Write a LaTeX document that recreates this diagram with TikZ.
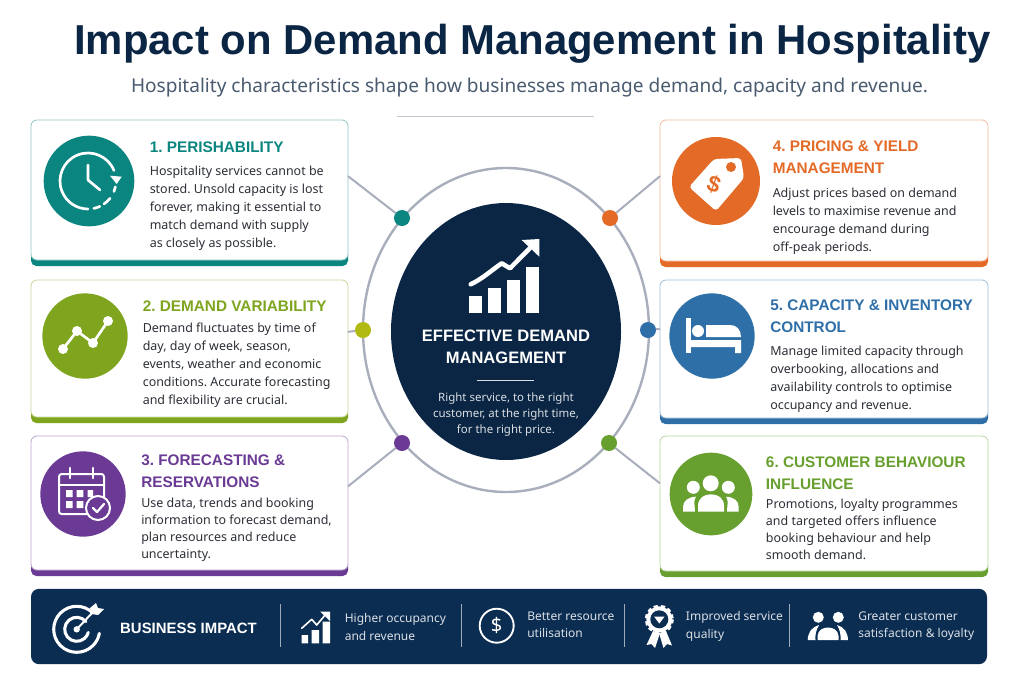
\documentclass[tikz,border=0pt]{standalone}
\usepackage{fontspec}
\setmainfont{Noto Sans}[BoldFont={Liberation Sans Bold}]
\frenchspacing
\usetikzlibrary{shapes.geometric,arrows.meta}
\definecolor{navy}{HTML}{0A2644}
\definecolor{barnavy}{HTML}{0B2D52}
\definecolor{ink}{HTML}{2B2F36}
\definecolor{slate}{HTML}{4A5B70}
\definecolor{ringgray}{HTML}{A8AEBB}
\definecolor{tealc}{HTML}{0B8580}
\definecolor{limec}{HTML}{7FA51F}
\definecolor{dotlime}{HTML}{B1BA10}
\definecolor{purplec}{HTML}{6A3A94}
\definecolor{orangec}{HTML}{E46A27}
\definecolor{bluec}{HTML}{2F6FA8}
\definecolor{greenc}{HTML}{67A02F}
\tikzset{
  card/.style={draw=#1!45,fill=white,rounded corners=4.5pt,line width=.6pt,outer sep=0pt,inner sep=0pt},
  bigicon/.style={circle,fill=#1,minimum size=64pt,inner sep=0pt,outer sep=0pt},
  linkdot/.style={circle,fill=#1,minimum size=12pt,inner sep=0pt,outer sep=0pt},
  link/.style={ringgray,line width=1.5pt},
  head/.style={font=\fontsize{11.5}{16.2}\selectfont\bfseries,text=#1,anchor=north west,align=left,inner sep=0pt,execute at begin node=\strut},
  body/.style={font=\fontsize{9.35}{13.5}\selectfont,text=ink,anchor=north west,align=left,inner sep=0pt,execute at begin node=\strut},
  bodytight/.style={body,font=\fontsize{9.35}{12.8}\selectfont},
  impact/.style={font=\fontsize{9}{13}\selectfont,text=white!85!barnavy,anchor=north west,align=left,inner sep=0pt,execute at begin node=\strut},
  icon/.style={white,line width=2pt,line cap=round,line join=round},
  divider/.style={white!60!barnavy,line width=.7pt}
}
\begin{document}
\begin{tikzpicture}[x=0.75pt,y=-0.75pt]
  \useasboundingbox (0,0) rectangle (1024,683);
  \fill[white] (0,0) rectangle (1024,683);

  % heading
  \node[at={(532.5,44)},font=\fontsize{31.4}{38}\selectfont\bfseries,text=navy,inner sep=0pt] (title) {Impact on Demand Management in Hospitality};
  \node[at={(529.5,88)},font=\fontsize{14.3}{18}\selectfont,text=slate,inner sep=0pt] (subtitle) {Hospitality characteristics shape how businesses manage demand, capacity and revenue.};
  \draw[ringgray!70,line width=.6pt] (397,116.5) -- (594,116.5);

  % cards left
  %bars
  \fill[tealc,rounded corners=4pt] (31,250) rectangle (348,266);
  \fill[limec,rounded corners=4pt] (31,407) rectangle (348,423);
  \fill[purplec,rounded corners=4pt] (31,560) rectangle (348,576);
  %boxes
  \node[card=tealc,minimum width=237.75pt,minimum height=105pt,at={(189.5,190)}] (card1) {};
  \node[card=limec,minimum width=237.75pt,minimum height=102.75pt,at={(189.5,348.5)}] (card2) {};
  \node[card=purplec,minimum width=237.75pt,minimum height=100.5pt,at={(189.5,503)}] (card3) {};

  % cards right
  %bars
  \fill[orangec,rounded corners=4pt] (660,251) rectangle (988,267);
  \fill[bluec,rounded corners=4pt] (660,408) rectangle (988,424);
  \fill[greenc,rounded corners=4pt] (660,561) rectangle (988,577);
  %boxes
  \node[card=orangec,minimum width=246pt,minimum height=105.75pt,at={(824,190.5)}] (card4) {};
  \node[card=bluec,minimum width=246pt,minimum height=103.5pt,at={(824,349)}] (card5) {};
  \node[card=greenc,minimum width=246pt,minimum height=101.25pt,at={(824,503.5)}] (card6) {};

  % hub
  %ring
  \node[ellipse,draw=ringgray,line width=1.8pt,minimum width=214.5pt,minimum height=243pt,inner sep=0pt,at={(506,330)}] (ring) {};
  \node[ellipse,fill=navy,minimum width=172.5pt,minimum height=192.75pt,inner sep=0pt,at={(506,331.5)}] (hub) {};
  %dots
  \node[linkdot=tealc,at={(402,218)}] (dot1) {};
  \node[linkdot=dotlime,at={(363,330)}] (dot2) {};
  \node[linkdot=purplec,at={(402,443)}] (dot3) {};
  \node[linkdot=orangec,at={(610,218)}] (dot4) {};
  \node[linkdot=bluec,at={(648,330)}] (dot5) {};
  \node[linkdot=greenc,at={(609,443)}] (dot6) {};
  %links
  \draw[link] (card1.5) -- (dot1);
  \draw[link] (card2.6.7) -- (dot2);
  \draw[link] (card3.6.8) -- (dot3);
  \draw[link] (card4.175.3) -- (dot4);
  \draw[link] (card5.173.4) -- (dot5);
  \draw[link] (card6.173.2) -- (dot6);
  %chart
  \fill[white] (469.3,296) rectangle (482.3,313.3);
  \fill[white] (488.3,288.3) rectangle (501.3,313.3);
  \fill[white] (507.3,280) rectangle (520.3,313.3);
  \fill[white] (526.3,266.7) rectangle (539.3,313.3);
  \draw[white,line width=3.4pt,line cap=round,line join=round] (470.7,284.3) .. controls (482,279) and (492,270) .. (501.7,263.3) -- (510,268.3) -- (531,247);
  \fill[white] (521.7,240) -- (539.3,239) -- (539.3,256.7) -- cycle;
  %labels
  \node[at={(506,347)},font=\fontsize{12.4}{16.6}\selectfont\bfseries,text=white,align=center,inner sep=0pt] (hubtitle) {EFFECTIVE DEMAND\\MANAGEMENT};
  \draw[white!85!navy,line width=.6pt] (476.7,380) -- (534.3,380);
  \node[at={(506,414.5)},font=\fontsize{8.6}{12.2}\selectfont,text=white!85!navy,align=center,inner sep=0pt] (hubtext) {Right service, to the right\\customer, at the right time,\\for the right price.};

  % card 1
  %icon
  \node[bigicon=tealc,minimum size=68pt,at={(89,181)}] (icon1) {};
  \draw[icon] (88,181) ++(-22:28) arc (-22:-270:28);
  \draw[icon] (88,181) ++(12:28) arc (12:22:28);
  \draw[icon] (88,181) ++(38:28) arc (38:55:28);
  \draw[icon] (88,181) ++(65:28) arc (65:78:28);
  \fill[white] (110,175.7) -- (121.7,176.7) -- (116.7,184) -- cycle;
  \draw[icon] (88,165) -- (88,180) -- (100,190);
  %labels
  \node[head=tealc,at={(149.5,137)}] (head1) {1. PERISHABILITY};
  \node[body,at={(149.5,165.5)}] (text1) {Hospitality services cannot be\\stored. Unsold capacity is lost\\forever, making it essential to\\match demand with supply\\as closely as possible.};

  % card 2
  %icon
  \node[bigicon=limec,at={(85,336)}] (icon2) {};
  \draw[icon] (63,349) -- (77,331) -- (93,343) -- (108,321);
  \fill[white] (63,349) circle (5) (77,331) circle (5) (93,343) circle (5) (108,321) circle (5);
  %labels
  \node[head=limec,at={(142.5,296)}] (head2) {2. DEMAND VARIABILITY};
  \node[body,at={(142.5,322.5)}] (text2) {Demand fluctuates by time of\\day, day of week, season,\\events, weather and economic\\conditions. Accurate forecasting\\and flexibility are crucial.};

  % card 3
  %icon
  \node[bigicon=purplec,at={(83,494)}] (icon3) {};
  \draw[icon,line width=1.5pt,rounded corners=2pt] (59,474) rectangle (104,514);
  \draw[icon,line width=1.5pt] (59,485) -- (104,485);
  \draw[icon] (70,468) -- (70,478) (93,468) -- (93,478);
  \fill[white] (66,490) rectangle (72.7,497) (76.7,490) rectangle (83.3,497) (87.7,490) rectangle (93,497);
  \fill[white] (66,501) rectangle (72.7,508) (76.7,501) rectangle (83.3,508);
  \draw[white,fill=purplec,line width=1.5pt] (98,508) circle (12);
  \draw[icon,line width=1.7pt] (93,508) -- (97,512) -- (104,504);
  %labels
  \node[head=purplec,at={(141,455)}] (head3) {3. FORECASTING \&\\RESERVATIONS};
  \node[bodytight,at={(141,498)}] (text3) {Use data, trends and booking\\information to forecast demand,\\plan resources and reduce\\uncertainty.};

  % card 4
  %icon
  \node[bigicon=orangec,minimum size=66pt,at={(716,181)}] (icon4) {};
  \fill[white,rounded corners=2.5pt] (689,187) -- (714,159) -- (741,158) -- (744,178) -- (716,211) -- cycle;
  \fill[orangec] (731,167) circle (5);
  \node[at={(714,185)},rotate=-20,font=\fontsize{17}{17}\selectfont\bfseries,text=orangec,inner sep=0pt] (dollar) {\$};
  %labels
  \node[head=orangec,at={(772.5,141)}] (head4) {4. PRICING \& YIELD\\MANAGEMENT};
  \node[body,at={(772.5,187.5)}] (text4) {Adjust prices based on demand\\levels to maximise revenue and\\encourage demand during\\off-peak periods.};

  % card 5
  %icon
  \node[bigicon=bluec,at={(712,336)}] (icon5) {};
  \fill[white] (686,318) rectangle (691,353);
  \fill[white] (698,331) circle (6);
  \fill[white] (706,337) -- (706,325) -- (730,325) .. controls (737,325) and (741,330) .. (741,337) -- cycle;
  \fill[white] (690,340) rectangle (741,347) (735,347) rectangle (741,353);
  %labels
  \node[head=bluec,at={(770,300)}] (head5) {5. CAPACITY \& INVENTORY\\CONTROL};
  \node[body,at={(770,345.5)}] (text5) {Manage limited capacity through\\overbooking, allocations and\\availability controls to optimise\\occupancy and revenue.};

  % card 6
  %icon
  \node[bigicon=greenc,minimum size=62pt,at={(711,494)}] (icon6) {};
  \fill[white] (710.7,483.3) circle (8) (693.3,487.3) circle (6.5) (728.3,487.3) circle (6.5);
  \fill[white] (698,511.7) -- (698,506) .. controls (698,498) and (704,494.3) .. (711,494.3) .. controls (718,494.3) and (724,498) .. (724,506) -- (724,511.7) -- cycle;
  \fill[white] (683,511.7) -- (683,507) .. controls (683,501) and (688,497) .. (696,496.7) .. controls (693,500) and (695,506) .. (695,511.7) -- cycle;
  \fill[white] (738.7,511.7) -- (738.7,507) .. controls (738.7,501) and (734,497) .. (726,496.7) .. controls (729,500) and (727,506) .. (727,511.7) -- cycle;
  %labels
  \node[head=greenc,at={(765.7,456.5)}] (head6) {6. CUSTOMER BEHAVIOUR\\INFLUENCE};
  \node[bodytight,at={(765.7,498.5)}] (text6) {Promotions, loyalty programmes\\and targeted offers influence\\booking behaviour and help\\smooth demand.};

  % bottom band
  \node[fill=barnavy,rounded corners=6pt,minimum width=717pt,minimum height=56.5pt,inner sep=0pt,at={(509,626.5)}] (band) {};
  %target
  \draw[icon,line width=2.3pt] (76.7,629.3) ++(-45:23) arc (-45:-350:23);
  \draw[icon,line width=2.3pt] (76.7,629.3) ++(-40:12) arc (-40:-345:12);
  \fill[white] (76.7,629.3) circle (3.2);
  \draw[icon,line width=1.5pt] (76.7,629.3) -- (93,612);
  \fill[white] (90,608) -- (96,603) -- (98,608) -- (104,609) -- (98,615) -- (92,614) -- cycle;
  \node[at={(188.5,628)},font=\fontsize{11.2}{13}\selectfont\bfseries,text=white,inner sep=0pt] (impacthead) {BUSINESS IMPACT};
  %dividers
  \draw[divider] (280.3,604) -- (280.3,647);
  \draw[divider] (461,604) -- (461,647);
  \draw[divider] (624,604) -- (624,647);
  \draw[divider] (789,604) -- (789,647);
  %chart
  \fill[white] (301.7,635) rectangle (308,643.3) (311.7,630) rectangle (319,643.3) (322.7,621.7) rectangle (330,643.3);
  \draw[icon,line width=1.2pt] (301.7,628.3) -- (311.7,619.3) -- (316.7,625) -- (326,614);
  \fill[white] (320,611.5) -- (330,611.5) -- (330,621) -- cycle;
  \node[impact,at={(344.5,613.5)}] (impact1) {Higher occupancy\\and revenue};
  %dollar
  \draw[icon,line width=1.4pt] (496.7,625.7) circle (17);
  \node[at={(496.7,625.7)},font=\fontsize{15}{15}\selectfont,text=white,inner sep=0pt] (impactdollar) {\$};
  \node[impact,at={(527,611.5)}] (impact2) {Better resource\\utilisation};
  %medal
  \fill[white] (653,631) -- (646.5,645) -- (651.5,644) -- (655,648) -- (660,633) -- cycle;
  \fill[white] (659,633) -- (663.5,648) -- (667,644) -- (672,645.5) -- (666,631) -- cycle;
  \draw[white,dash pattern=on 3pt off 2.2pt,line width=2.4pt] (659.3,619.3) circle (13);
  \fill[white] (659.3,619.3) circle (13);
  \fill[barnavy] (659.3,619.3) circle (9);
  \fill[white] (654,616.5) -- (664.6,616.5) -- (659.3,623.5) -- cycle;
  \node[impact,at={(685.7,611.5)}] (impact3) {Improved service\\quality};
  %people
  \fill[white] (818.3,617.3) circle (5.5) (838.3,617.3) circle (5.5);
  \fill[white] (807.7,640) .. controls (808,632) and (812,627) .. (819,625) .. controls (816,630) and (815,635) .. (815.5,640) -- cycle;
  \fill[white] (848,640) .. controls (847.7,632) and (844,627) .. (837,625) .. controls (840,630) and (841,635) .. (840.5,640) -- cycle;
  \fill[white] (817.5,640) -- (817.5,636) .. controls (818,630) and (823,627.5) .. (828,627.5) .. controls (833,627.5) and (838,630) .. (838.5,636) -- (838.5,640) -- cycle;
  \node[impact,at={(858,611.5)}] (impact4) {Greater customer\\satisfaction \& loyalty};
\end{tikzpicture}
\end{document}
